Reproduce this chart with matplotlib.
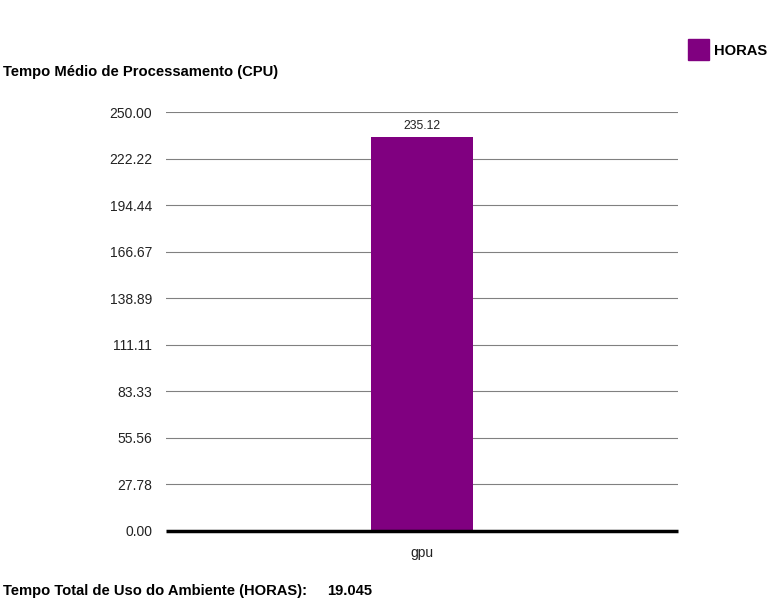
import matplotlib
matplotlib.use('Agg')
import matplotlib.pyplot as plt
import numpy as np

plt.rcParams['font.family'] = ['Liberation Sans', 'DejaVu Sans']

categories = ['gpu']
horas = [235.12]
tick_values = [0.00, 27.78, 55.56, 83.33, 111.11, 138.89, 166.67, 194.44, 222.22, 250.00]
tempo_total = '19.045'
cor = '#800080'

fig = plt.figure(figsize=(7.68, 6.0), dpi=100)
ax = fig.add_axes([166 / 768, 69 / 600, 512 / 768, 419 / 600])

x = np.arange(len(categories))
bars = ax.bar(x, horas, width=0.2, color=cor, zorder=3)
for b, v in zip(bars, horas):
    ax.text(b.get_x() + b.get_width() / 2, v + 3, f'{v:.2f}', ha='center', va='bottom',
            fontsize=8.8, color='#222222')

ax.set_xlim(-0.5, 0.5)
ax.set_ylim(0, 250)
ax.set_yticks(tick_values)
ax.set_yticklabels([f'{t:.2f}' for t in tick_values], fontsize=10, color='#222222')
ax.set_xticks(x)
ax.set_xticklabels(categories, fontsize=10, color='#222222')
ax.tick_params(axis='y', length=0, pad=10)
ax.tick_params(axis='x', length=0, pad=11)
ax.grid(axis='y', color='#808080', linewidth=0.8, zorder=1)
for s in ['top', 'right', 'left']:
    ax.spines[s].set_visible(False)
ax.spines['bottom'].set_linewidth(2.5)
ax.spines['bottom'].set_color('black')
ax.spines['bottom'].set_capstyle('butt')
ax.spines['bottom'].set_zorder(4)

fig.text(3 / 768, 1 - 72 / 600, 'Tempo Médio de Processamento (CPU)', fontsize=10.6,
         fontweight='bold', va='center', ha='left')

# legenda
fig.patches.append(plt.Rectangle((688 / 768, 1 - 60 / 600), 21 / 768, 21 / 600,
                                 transform=fig.transFigure, color=cor))
fig.text(714 / 768, 1 - 51 / 600, 'HORAS', fontsize=10.6, fontweight='bold', va='center', ha='left')

fig.text(3 / 768, 1 - 591 / 600, 'Tempo Total de Uso do Ambiente (HORAS):', fontsize=10.6,
         fontweight='bold', va='center', ha='left')
fig.text(327 / 768, 1 - 591 / 600, tempo_total, fontsize=10.6, fontweight='bold', va='center', ha='left')

fig.savefig('out.png', dpi=100, facecolor='white')
